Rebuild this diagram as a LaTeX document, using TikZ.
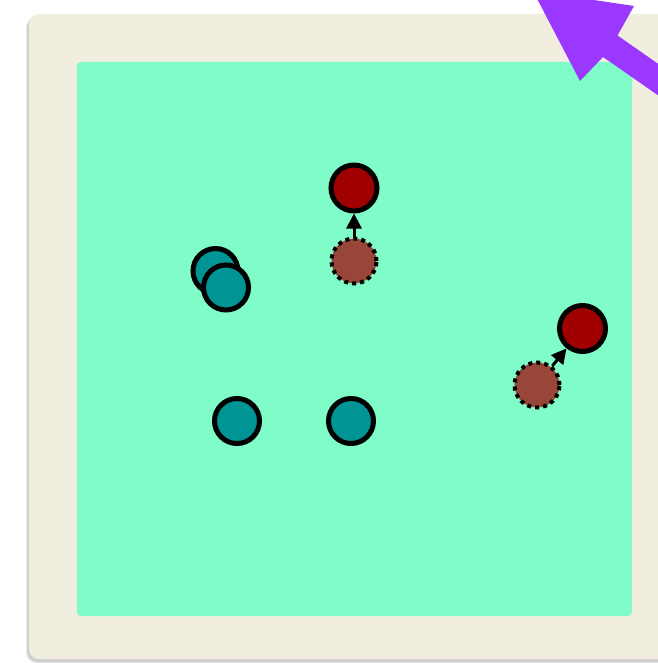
\documentclass[tikz,border=0pt]{standalone}
\usetikzlibrary{arrows.meta}
\definecolor{paper}{HTML}{F2EEDF}
\definecolor{field}{HTML}{80FCC8}
\definecolor{redball}{HTML}{A00000}
\definecolor{ghostball}{HTML}{984639}
\definecolor{tealball}{HTML}{009494}
\definecolor{purplearrow}{HTML}{9A38FF}
\tikzset{
  solidred/.style={circle, draw=black, line width=5pt, fill=redball, minimum size=46pt, inner sep=0pt},
  ghost/.style={circle, draw=black, line width=4pt, dash pattern=on 4pt off 4pt, fill=ghostball, minimum size=45pt, inner sep=0pt},
  teal/.style={circle, draw=black, line width=5pt, fill=tealball, minimum size=45pt, inner sep=0pt},
  move/.style={line width=3pt, -{Triangle[length=15pt,width=15pt]}},
}
\begin{document}
\begin{tikzpicture}[x=1pt,y=-1pt]
\useasboundingbox (0,0) rectangle (657,663);
% paper shadow
\fill[black, opacity=0.12, rounded corners=10pt] (27,17) rectangle (690,662);
\fill[black, opacity=0.08, rounded corners=10pt] (26,18) rectangle (690,663);
% paper
\fill[paper, rounded corners=10pt] (29,14) rectangle (690,659);
% field
\fill[field, rounded corners=4pt] (77,62) rectangle (632,616);
% teal circles
\node[teal] (t1) at (215.5,271) {};
\node[teal] (t2) at (226,287.5) {};
\node[teal] (t3) at (237,421) {};
\node[teal] (t4) at (351,421) {};
% red balls and ghosts
\node[solidred] (r1) at (354,188) {};
\node[ghost] (g1) at (354,261) {};
\draw[move] (g1) -- (r1);
\node[solidred] (r2) at (582.5,328.5) {};
\node[ghost] (g2) at (537,385) {};
\draw[move] (g2) -- (r2);
% purple arrow (partly outside the frame)
\fill[purplearrow] (533,-9) -- (634,6) -- (617.5,35.5) -- (720,107) -- (705,128) -- (603,57) -- (580,81) -- cycle;
\end{tikzpicture}
\end{document}
